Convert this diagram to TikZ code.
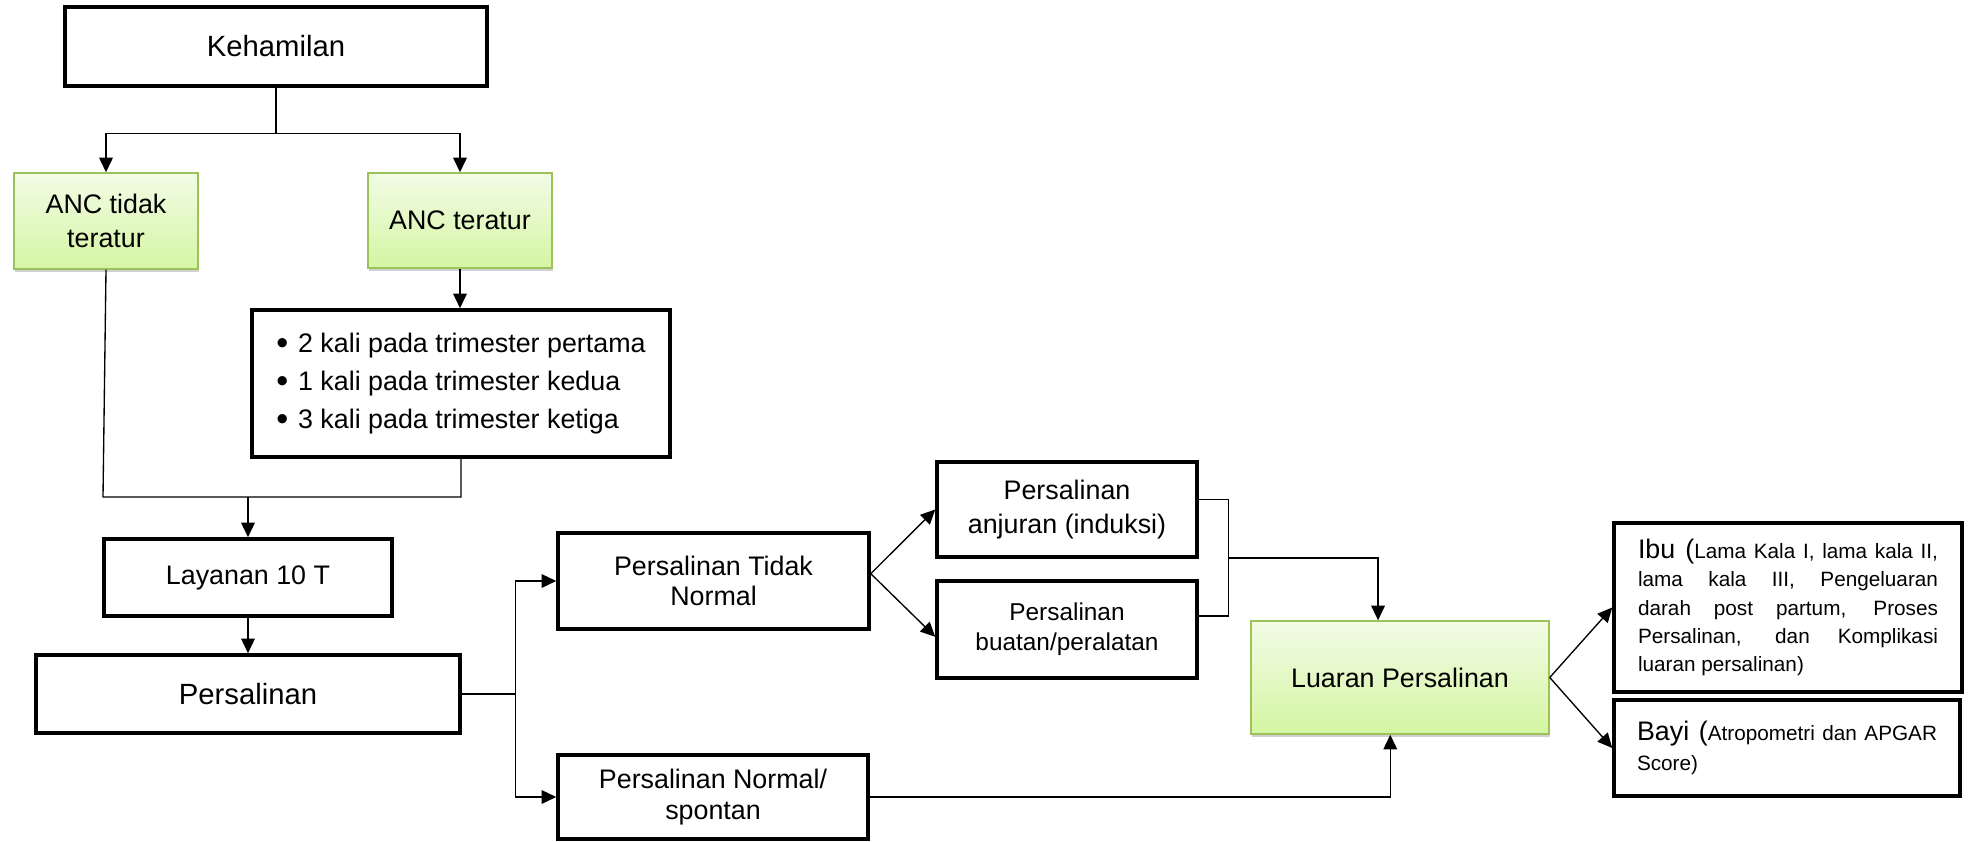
\documentclass[tikz,border=0pt]{standalone}
\usepackage{fontspec}
\setmainfont{Liberation Sans}
\usetikzlibrary{arrows.meta,shadows,calc}

\definecolor{hijauatas}{RGB}{242,252,230}
\definecolor{hijaubawah}{RGB}{213,245,163}
\definecolor{hijaugaris}{RGB}{155,195,90}
\newcommand{\butir}[1]{\raisebox{-0.9pt}{\fontsize{14}{14}\selectfont\textbullet}\hspace{4pt}#1}

\begin{document}
\begin{tikzpicture}[x=0.41pt, y=-0.41pt,
    ukuran/.style 2 args={minimum width=#1*0.41pt, minimum height=#2*0.41pt},
    kotak/.style={draw, line width=1.45pt, align=center, inner sep=0pt,
      font=\fontsize{11}{13}\selectfont},
    hijau/.style={draw=hijaugaris, line width=0.6pt,
      top color=hijauatas, bottom color=hijaubawah,
      drop shadow={shadow xshift=0.6pt, shadow yshift=-1.3pt, fill=black!60, opacity=0.3}},
    garis/.style={line width=0.55pt},
    panah/.style={garis, -{Triangle[length=6pt,width=5.6pt]}}]
  \useasboundingbox (0,0) rectangle (1968,842);
  \node[kotak, ukuran={422}{79}, font=\fontsize{12}{14}\selectfont] (hamil) at (276,46.5) {Kehamilan};
  \node[kotak, hijau, ukuran={184}{96}, font=\fontsize{11}{14}\selectfont] (anctt) at (106,221) {ANC tidak\\teratur};
  \node[kotak, hijau, ukuran={184}{95}] (anct) at (460,220.5) {ANC teratur};
  \node[kotak, ukuran={418}{147}, align=left, font=\fontsize{11}{15.5}\selectfont] (jadwal) at (461,383.5)
    {\butir{2 kali pada trimester pertama}\\\butir{1 kali pada trimester kedua}\\\butir{3 kali pada trimester ketiga}};
  \node[kotak, ukuran={288}{77}] (layanan) at (248,577.5) {Layanan 10 T};
  \node[kotak, ukuran={424}{78}, font=\fontsize{12}{14}\selectfont] (salin) at (248,694) {Persalinan};
  \node[kotak, ukuran={311}{96}, font=\fontsize{11}{12}\selectfont] (tidaknormal) at (713.5,581) {Persalinan Tidak\\Normal};
  \node[kotak, ukuran={310}{84}, font=\fontsize{11}{13}\selectfont] (normal) at (713,797) {Persalinan Normal/\\spontan};
  \node[kotak, ukuran={260}{95}, font=\fontsize{11}{13.7}\selectfont] (anjuran) at (1067,509.5) {Persalinan\\anjuran (induksi)};
  \node[kotak, ukuran={260}{97}, font=\fontsize{10}{12.3}\selectfont] (buatan) at (1067,629.5) {Persalinan\\buatan/peralatan};
  \node[kotak, hijau, ukuran={298}{113}] (luaran) at (1400,677.5) {Luaran Persalinan};
  \node[kotak, ukuran={348}{169}, text width=123pt, align=justify, font=\fontsize{8.5}{11.6}\selectfont] (ibu) at (1788,607.5)
    {{\fontsize{11}{11.6}\selectfont Ibu (}Lama Kala I, lama kala II,\linebreak lama kala III, Pengeluaran\linebreak darah post partum, Proses\linebreak Persalinan, dan Komplikasi\linebreak luaran persalinan)};
  \node[kotak, ukuran={346}{96}, text width=123pt, align=justify, font=\fontsize{8.5}{12.3}\selectfont] (bayi) at (1787,748)
    {{\fontsize{11}{12.3}\selectfont Bayi (}Atropometri dan APGAR\linebreak Score)};
  \draw[garis] (hamil.south) -- ++(0,46) coordinate (cabangatas);
  \draw[panah] (cabangatas) -| (anctt.north);
  \draw[panah] (cabangatas) -| (anct.north);
  \draw[panah] (anct.south) -- (anct.south |- jadwal.north);
  \coordinate (kiri) at (103,497);
  \draw[garis] (anctt.south) -- (kiri) -- (kiri -| jadwal.south) -- (jadwal.south);
  \draw[panah] (kiri -| layanan.north) -- (layanan.north);
  \draw[panah] (layanan) -- (salin);
  \draw[garis] (salin.east) -- ++(54,0) coordinate (cabangbawah);
  \draw[panah] (cabangbawah) |- (tidaknormal.west);
  \draw[panah] (cabangbawah) |- (normal.west);
  \draw[panah] ([yshift=3pt]tidaknormal.east) -- (anjuran.west);
  \draw[panah] ([yshift=3pt]tidaknormal.east) -- ([yshift=-3pt]buatan.west);
  \draw[garis] ([yshift=4pt]anjuran.east) -- ++(30,0) coordinate (kurung)
    |- ([yshift=5.5pt]buatan.east) coordinate (kurungbawah);
  \coordinate (tengah) at ($(kurung)!.5!(kurung |- kurungbawah)$);
  \draw[panah] (tengah) -| ([xshift=-9pt]luaran.north);
  \draw[panah] (normal.east) -| ([xshift=-4pt]luaran.south);
  \draw[panah] (luaran.east) -- (ibu.west);
  \draw[panah] (luaran.east) -- (bayi.west);
\end{tikzpicture}
\end{document}
